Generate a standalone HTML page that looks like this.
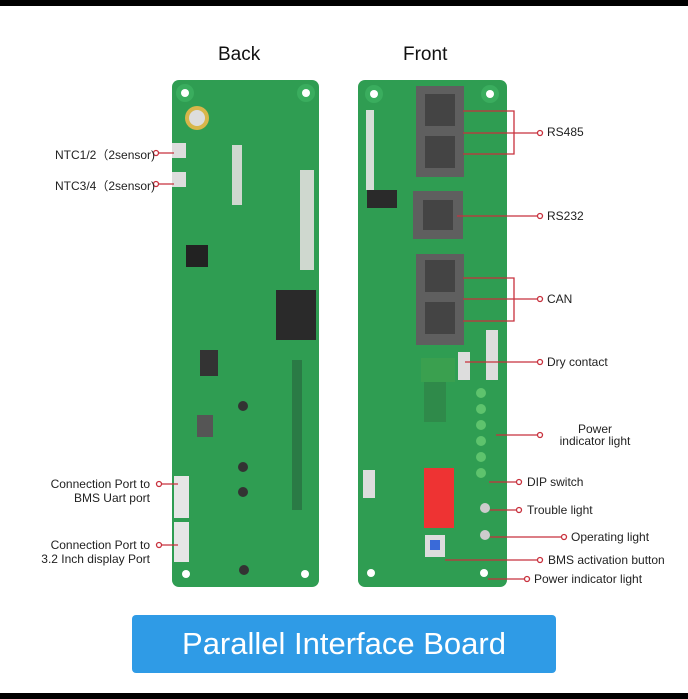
<!DOCTYPE html>
<html><head><meta charset="utf-8"><style>
body{margin:0;width:688px;height:699px;background:#fff;position:relative;overflow:hidden;font-family:"Liberation Sans",sans-serif;}
.a{position:absolute}
.t{position:absolute;font-size:12px;color:#222;white-space:nowrap}
.r{text-align:right}
</style></head><body>
<div class="a" style="left:0;top:0;width:688px;height:6px;background:#000"></div>
<div class="a" style="left:0;top:693px;width:688px;height:6px;background:#000"></div>
<div class="t" style="left:218px;top:44px;font-size:19px;color:#111">Back</div>
<div class="t" style="left:403px;top:44px;font-size:19px;color:#111">Front</div>

<svg class="a" style="left:0;top:0" width="688" height="699">
<!-- back board -->
<rect x="172" y="80" width="147" height="507" rx="7" fill="#2f9d52"/>
<circle cx="185" cy="93" r="9" fill="#3aad5e"/><circle cx="185" cy="93" r="4" fill="#fff"/>
<circle cx="306" cy="93" r="9" fill="#3aad5e"/><circle cx="306" cy="93" r="4" fill="#fff"/>
<circle cx="186" cy="574" r="4" fill="#fff"/><circle cx="305" cy="574" r="4" fill="#fff"/>
<circle cx="197" cy="118" r="12" fill="#d8b64a"/><circle cx="197" cy="118" r="8" fill="#ddd"/>
<rect x="186" y="245" width="22" height="22" fill="#222"/>
<rect x="276" y="290" width="40" height="50" fill="#2a2a2a"/>
<rect x="197" y="415" width="16" height="22" fill="#555"/>
<rect x="200" y="350" width="18" height="26" fill="#333"/>
<circle cx="243" cy="406" r="5" fill="#333"/><circle cx="243" cy="467" r="5" fill="#333"/><circle cx="243" cy="492" r="5" fill="#333"/><circle cx="244" cy="570" r="5" fill="#333"/>
<rect x="292" y="360" width="10" height="150" fill="#2a7a45"/>
<rect x="300" y="170" width="14" height="100" fill="#cfd8cf"/>
<rect x="172" y="143" width="14" height="15" fill="#ddd"/><rect x="172" y="172" width="14" height="15" fill="#ddd"/>
<rect x="174" y="476" width="15" height="42" fill="#e6e6e6"/><rect x="174" y="522" width="15" height="40" fill="#e6e6e6"/>
<rect x="232" y="145" width="10" height="60" fill="#cfd8cf"/>
<!-- front board -->
<rect x="358" y="80" width="149" height="507" rx="7" fill="#2f9d52"/>
<circle cx="374" cy="94" r="9" fill="#3aad5e"/><circle cx="374" cy="94" r="4" fill="#fff"/>
<circle cx="490" cy="94" r="9" fill="#3aad5e"/><circle cx="490" cy="94" r="4" fill="#fff"/>
<rect x="366" y="110" width="8" height="80" fill="#d7ddd7"/>
<rect x="416" y="86" width="48" height="91" fill="#5f5f5f"/>
<rect x="425" y="94" width="30" height="32" fill="#444"/><rect x="425" y="136" width="30" height="32" fill="#444"/>
<rect x="413" y="191" width="50" height="48" fill="#5f5f5f"/><rect x="423" y="200" width="30" height="30" fill="#444"/>
<rect x="416" y="254" width="48" height="91" fill="#5f5f5f"/>
<rect x="425" y="260" width="30" height="32" fill="#444"/><rect x="425" y="302" width="30" height="32" fill="#444"/>
<rect x="367" y="190" width="30" height="18" fill="#2a2a2a"/>
<rect x="421" y="358" width="34" height="24" fill="#3aa04f"/><rect x="424" y="382" width="22" height="40" fill="#2f8a4a"/>
<rect x="458" y="352" width="12" height="28" fill="#ddd"/><rect x="486" y="330" width="12" height="50" fill="#ddd"/>
<g fill="#5ec36d"><circle cx="481" cy="393" r="5"/><circle cx="481" cy="409" r="5"/><circle cx="481" cy="425" r="5"/><circle cx="481" cy="441" r="5"/><circle cx="481" cy="457" r="5"/><circle cx="481" cy="473" r="5"/></g>
<rect x="424" y="468" width="30" height="60" fill="#e33"/>
<rect x="363" y="470" width="12" height="28" fill="#ddd"/>
<circle cx="485" cy="508" r="5" fill="#ccc"/><circle cx="485" cy="535" r="5" fill="#ccc"/>
<rect x="425" y="535" width="20" height="22" fill="#ddd"/><rect x="430" y="540" width="10" height="10" fill="#3a6ad8"/>
<circle cx="484" cy="573" r="4" fill="#fff"/><circle cx="371" cy="573" r="4" fill="#fff"/>
<!-- red connectors -->
<g stroke="#c8313d" stroke-width="1.3" fill="none">
<line x1="156" y1="153" x2="174" y2="153"/><line x1="156" y1="184" x2="174" y2="184"/>
<line x1="159" y1="484" x2="178" y2="484"/><line x1="159" y1="545" x2="178" y2="545"/>
<path d="M463 111H514V154H463M463 133H540"/>
<line x1="457" y1="216" x2="540" y2="216"/>
<path d="M463 278H514V321H463M463 299H540"/>
<line x1="465" y1="362" x2="540" y2="362"/>
<line x1="496" y1="435" x2="540" y2="435"/>
<line x1="489" y1="482" x2="519" y2="482"/>
<line x1="490" y1="510" x2="519" y2="510"/>
<line x1="490" y1="537" x2="564" y2="537"/>
<line x1="445" y1="560" x2="540" y2="560"/>
<line x1="488" y1="579" x2="527" y2="579"/>
</g>
<g stroke="#c8313d" stroke-width="1.3" fill="#fff">
<circle cx="156" cy="153" r="2.5"/><circle cx="156" cy="184" r="2.5"/><circle cx="159" cy="484" r="2.5"/><circle cx="159" cy="545" r="2.5"/>
<circle cx="540" cy="133" r="2.5"/><circle cx="540" cy="216" r="2.5"/><circle cx="540" cy="299" r="2.5"/><circle cx="540" cy="362" r="2.5"/>
<circle cx="540" cy="435" r="2.5"/><circle cx="519" cy="482" r="2.5"/><circle cx="519" cy="510" r="2.5"/><circle cx="564" cy="537" r="2.5"/><circle cx="540" cy="560" r="2.5"/><circle cx="527" cy="579" r="2.5"/>
</g>
</svg>

<div class="t" style="left:55px;top:146px">NTC1/2（2sensor)</div>
<div class="t" style="left:55px;top:177px">NTC3/4（2sensor)</div>
<div class="t r" style="left:30px;top:477px;width:120px;line-height:14px">Connection Port to<br>BMS Uart port</div>
<div class="t r" style="left:20px;top:538px;width:130px;line-height:14px">Connection Port to<br>3.2 Inch display Port</div>
<div class="t" style="left:547px;top:125px">RS485</div>
<div class="t" style="left:547px;top:209px">RS232</div>
<div class="t" style="left:547px;top:292px">CAN</div>
<div class="t" style="left:547px;top:355px">Dry contact</div>
<div class="t" style="left:545px;top:423px;width:100px;text-align:center;line-height:12px">Power<br>indicator light</div>
<div class="t" style="left:527px;top:475px">DIP switch</div>
<div class="t" style="left:527px;top:503px">Trouble light</div>
<div class="t" style="left:571px;top:530px">Operating light</div>
<div class="t" style="left:548px;top:553px">BMS activation button</div>
<div class="t" style="left:534px;top:572px">Power indicator light</div>

<div class="a" style="left:132px;top:615px;width:424px;height:58px;background:#2f9be6;border-radius:4px;color:#fff;font-size:31px;text-align:center;line-height:58px">Parallel Interface Board</div>
</body></html>
